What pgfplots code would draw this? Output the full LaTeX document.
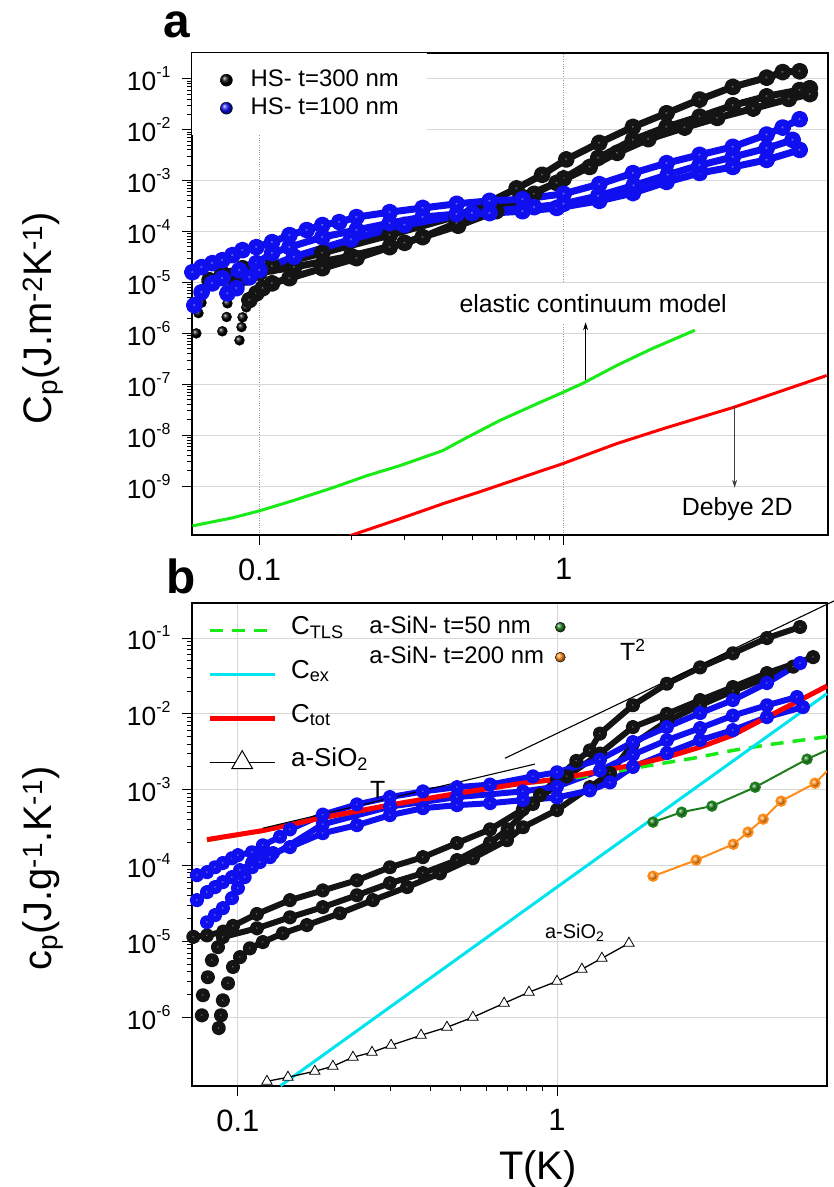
\documentclass[border=0pt]{standalone}
\usepackage{fontspec}
\setmainfont{Liberation Sans}
\usepackage{pgfplots}
\pgfplotsset{compat=1.18}
\usetikzlibrary{shadings,arrows.meta}
\definecolor{lgreen}{RGB}{25,235,25}
\definecolor{cyanl}{RGB}{0,228,238}
\definecolor{dgreen}{RGB}{30,125,30}
\definecolor{orng}{RGB}{255,140,25}
\definecolor{gridc}{RGB}{215,215,215}
\definecolor{dblue}{RGB}{15,15,240}
\newcommand{\fs}[1]{\fontsize{#1}{#1}\selectfont}
\newcommand{\ex}[1]{10\raisebox{13bp}{\fs{16}#1}}

\pgfplotsset{
  mybandA/.style={black!92, line width=7bp, line join=round, line cap=round, mark=ball, mark size=5bp, mark options={ball color=black}},
  mybandAb/.style={dblue, line width=7bp, line join=round, line cap=round, mark=ball, mark size=5bp, mark options={ball color=dblue}},
  mysparseA/.style={only marks, mark=ball, mark size=5bp, mark options={ball color=black}},
  mybandB/.style={black!92, line width=6bp, line join=round, line cap=round, mark=ball, mark size=4.2bp, mark options={ball color=black}},
  mybandBb/.style={dblue, line width=6bp, line join=round, line cap=round, mark=ball, mark size=4.2bp, mark options={ball color=dblue}},
}

\begin{document}
\begin{tikzpicture}
\useasboundingbox (0,0) rectangle (834bp,1187bp);

% ---------------- panel a ----------------
\begin{axis}[
  scale only axis, xmode=log, ymode=log,
  log identify minor tick positions=true,
  tick pos=left, tick align=outside,
  major tick length=10bp, minor tick length=5bp,
  every tick/.append style={black, line width=0.9bp},
  axis line style={line width=1.3bp, black},
  yticklabel style={font=\fs{26.5}, xshift=-8bp},
  xticklabel style={font=\fs{31}, yshift=-10bp},
  xtick={0.1,1}, xticklabels={0.1,1},
  ymajorgrids, xmajorgrids,
  y grid style={gridc, line width=0.9bp},
  at={(192bp,652bp)}, anchor=south west, width=636bp, height=482bp,
  xmin=0.06, xmax=7.4, ymin=1.1e-10, ymax=0.32,
  ytick={1e-9,1e-8,1e-7,1e-6,1e-5,1e-4,1e-3,1e-2,1e-1},
  yticklabels={\ex{-9},\ex{-8},\ex{-7},\ex{-6},\ex{-5},\ex{-4},\ex{-3},\ex{-2},\ex{-1}},
  x grid style={gray!80, dotted, line width=0.8bp},
  ylabel={C\textsubscript{p}(J.m\textsuperscript{-2}K\textsuperscript{-1})},
  ylabel style={at={(axis description cs:-0.234,0.45)}, anchor=center, font=\fs{40}},
  legend style={at={(axis description cs:0,1)}, anchor=north west, draw=none, fill=white,
    inner xsep=28bp, inner ysep=16bp, column sep=18bp, row sep=6bp,
    nodes={inner sep=0pt, text height=17bp, text depth=5bp}, font=\fs{24}},
  legend cell align=left,
]
\addlegendimage{only marks, mark=ball, mark size=6bp, mark options={ball color=black}}
\addlegendentry{HS- t=300 nm}
\addlegendimage{only marks, mark=ball, mark size=6bp, mark options={ball color=dblue}}
\addlegendentry{HS- t=100 nm}

% black, t=300 nm
\addplot[mysparseA, forget plot] coordinates {(0.062,1.0e-6) (0.063,2.5e-6) (0.0645,4.0e-6) (0.065,7.0e-6)};
\addplot[mybandA, forget plot] coordinates {
(0.0685,1.1e-5) (0.0755,1.5e-5) (0.088,1.9e-5) (0.110,2.1e-5) (0.161,3.8e-5) (0.268,8.5e-5)
(0.445,2.0e-4) (0.571,3.8e-4) (0.70,7.0e-4) (0.85,1.3e-3) (1.02,2.6e-3) (1.31,5.5e-3)
(1.69,1.13e-2) (2.18,2.1e-2) (2.80,3.9e-2) (3.60,6.9e-2) (4.65,0.105) (5.25,0.135) (5.97,0.14)};
\addplot[mysparseA, forget plot] coordinates {(0.0755,1.1e-6) (0.078,2.1e-6) (0.0785,3.9e-6) (0.080,6.1e-6)};
\addplot[mybandA, forget plot] coordinates {
(0.084,9.6e-6) (0.0905,1.26e-5) (0.100,1.55e-5) (0.13,2.0e-5) (0.2,3.3e-5) (0.3,6.0e-5)
(0.45,1.3e-4) (0.6,2.5e-4) (0.8,5.5e-4) (1.0,1.1e-3) (1.3,2.8e-3) (1.69,6.3e-3)
(2.18,1.13e-2) (2.8,1.8e-2) (3.6,3.0e-2) (4.65,4.5e-2) (5.97,6.0e-2) (6.45,6.5e-2)};
\addplot[mysparseA, forget plot] coordinates {(0.086,7.3e-7) (0.0873,1.33e-6) (0.088,2.07e-6) (0.0905,3.25e-6)};
\addplot[mybandA, forget plot] coordinates {
(0.0927,4.5e-6) (0.0977,6.1e-6) (0.1025,7.7e-6) (0.110,9.6e-6) (0.1255,1.21e-5) (0.161,1.9e-5)
(0.2085,3.0e-5) (0.268,4.93e-5) (0.344,7.76e-5) (0.445,1.46e-4) (0.571,2.6e-4) (0.733,4.75e-4)
(0.949,9.0e-4) (1.218,1.85e-3) (1.5,3.5e-3) (1.9,6.5e-3) (2.5,1.1e-2) (3.2,1.7e-2)
(4.2,2.6e-2) (5.5,4.0e-2) (6.45,5.0e-2)};

% blue, t=100 nm
\addplot[mybandAb, forget plot] coordinates {
(0.0602,1.59e-5) (0.0645,2.0e-5) (0.070,2.39e-5) (0.0755,2.73e-5) (0.0815,3.43e-5) (0.0879,4.3e-5)
(0.0977,4.93e-5) (0.110,6.18e-5) (0.1255,8.5e-5) (0.143,1.07e-4) (0.161,1.34e-4) (0.183,1.53e-4)
(0.2085,1.92e-4) (0.268,2.4e-4) (0.344,2.9e-4) (0.445,3.5e-4) (0.571,4.0e-4) (0.733,4.3e-4)
(1.0,5.5e-4) (1.31,8.5e-4) (1.69,1.4e-3) (2.18,2.2e-3) (2.8,3.2e-3) (3.6,4.6e-3)
(4.65,8.0e-3) (5.25,1.1e-2) (5.97,1.6e-2)};
\addplot[mybandAb, forget plot] coordinates {
(0.0611,3.56e-6) (0.0645,6.4e-6) (0.070,9.6e-6) (0.0755,1.21e-5) (0.0859,1.74e-5) (0.0977,2.39e-5)
(0.110,3.76e-5) (0.1255,4.93e-5) (0.161,7.76e-5) (0.2085,1.07e-4) (0.268,1.46e-4) (0.344,1.92e-4)
(0.445,2.2e-4) (0.571,2.3e-4) (0.733,2.5e-4) (0.949,2.9e-4) (1.31,4.0e-4) (1.69,5.7e-4)
(2.18,9.4e-4) (2.8,1.41e-3) (3.6,1.85e-3) (4.65,2.55e-3) (5.97,4.0e-3)};
\addplot[mybandAb, forget plot] coordinates {
(0.0785,6.1e-6) (0.084,7.7e-6) (0.0927,1.26e-5) (0.100,1.74e-5) (0.13,3.2e-5) (0.2,7.0e-5)
(0.3,1.35e-4) (0.5,2.3e-4) (0.8,3.0e-4) (1.0,3.5e-4) (1.3,5.0e-4) (1.7,8.0e-4)
(2.2,1.3e-3) (2.8,2.0e-3) (3.6,2.9e-3) (4.65,4.3e-3) (5.66,6.3e-3)};

% elastic continuum model
\addplot[lgreen, line width=3bp, forget plot] coordinates {
(0.0602,1.66e-10) (0.0815,2.39e-10) (0.1,3.28e-10) (0.1284,5.16e-10) (0.174,9.3e-10) (0.225,1.60e-9)
(0.289,2.52e-9) (0.400,4.98e-9) (0.480,8.97e-9) (0.616,1.94e-8) (0.834,4.38e-8) (0.992,6.9e-8)
(1.155,1.04e-7) (1.494,2.34e-7) (1.963,5.07e-7) (2.70,1.15e-6)};
% Debye 2D
\addplot[red, line width=3bp, forget plot] coordinates {
(0.198,1.06e-10) (0.289,2.28e-10) (0.400,4.5e-10) (0.542,8.1e-10) (0.791,1.75e-9) (0.992,2.76e-9)
(1.494,6.84e-9) (2.18,1.41e-8) (3.60,3.49e-8) (7.33,1.49e-7)};

\node[fill=white, inner xsep=13.5bp, minimum height=41bp, font=\fs{25}] at (axis cs:1.25,3.9e-6) {elastic continuum model};
\draw[-{Stealth[length=8bp,width=5bp]}, line width=0.8bp] (axis cs:1.181,1.19e-7) -- (axis cs:1.181,1.65e-6);
\node[font=\fs{25}, inner sep=1bp] at (axis cs:3.72,3.59e-10) {Debye 2D};
\draw[-{Stealth[length=8bp,width=5bp]}, line width=0.8bp, black!75] (axis cs:3.65,3.83e-8) -- (axis cs:3.65,9.3e-10);
\end{axis}

% ---------------- panel b ----------------
\begin{axis}[
  scale only axis, xmode=log, ymode=log,
  log identify minor tick positions=true,
  tick pos=left, tick align=outside,
  major tick length=10bp, minor tick length=5bp,
  every tick/.append style={black, line width=0.9bp},
  axis line style={line width=1.3bp, black},
  yticklabel style={font=\fs{26.5}, xshift=-8bp},
  xticklabel style={font=\fs{31}, yshift=-10bp},
  xtick={0.1,1}, xticklabels={0.1,1},
  ymajorgrids, xmajorgrids,
  y grid style={gridc, line width=0.9bp},
  at={(192bp,101bp)}, anchor=south west, width=635bp, height=483bp,
  xmin=0.0718, xmax=7.02, ymin=1.24e-7, ymax=0.29,
  clip=false,
  ytick={1e-6,1e-5,1e-4,1e-3,1e-2,1e-1},
  yticklabels={\ex{-6},\ex{-5},\ex{-4},\ex{-3},\ex{-2},\ex{-1}},
  x grid style={gridc, line width=0.9bp},
  ylabel={c\textsubscript{p}(J.g\textsuperscript{-1}.K\textsuperscript{-1})},
  ylabel style={at={(axis description cs:-0.235,0.45)}, anchor=center, font=\fs{40}},
  xlabel={T(K)},
  xlabel style={at={(axis description cs:0.545,-0.172)}, anchor=center, font=\fs{40}},
  legend style={at={(axis description cs:0,1)}, anchor=north west, draw=none, fill=none,
    inner xsep=15bp, inner ysep=11bp, column sep=14bp, row sep=11bp,
    nodes={inner sep=0pt, text height=20bp, text depth=13bp}, font=\fs{26}},
  legend cell align=left,
  legend image code/.code={\draw[mark repeat=2,mark phase=2,#1] plot coordinates {(0bp,0bp) (32.5bp,0bp) (65bp,0bp)};},
]
\addlegendimage{lgreen, line width=3.5bp, dash pattern=on 13bp off 9bp}
\addlegendentry{C\textsubscript{TLS}}
\addlegendimage{cyanl, line width=3bp}
\addlegendentry{C\textsubscript{ex}}
\addlegendimage{red, line width=5bp}
\addlegendentry{C\textsubscript{tot}}
\addlegendimage{black, line width=1.3bp, mark=triangle*, mark size=12bp, mark options={fill=white, draw=black, line width=1bp}}
\addlegendentry{a-SiO\textsubscript{2}}

% black, t=300 nm
\addplot[mybandB, forget plot] coordinates {
(0.0725,1.15e-5) (0.080,1.2e-5) (0.090,1.35e-5) (0.0965,1.6e-5) (0.1147,2.3e-5) (0.1456,3.5e-5)
(0.1845,4.7e-5) (0.236,6.4e-5) (0.2995,9.5e-5) (0.38,1.29e-4) (0.486,1.98e-4) (0.617,3.0e-4)
(0.782,5.5e-4) (0.885,8.5e-4) (1.0,1.4e-3) (1.15,2.4e-3) (1.268,3.3e-3) (1.364,5.5e-3)
(1.73,1.3e-2) (2.21,2.5e-2) (2.81,4.1e-2) (3.56,6.3e-2) (4.55,0.10) (5.78,0.14)};
\addplot[mybandB, only marks, forget plot] coordinates {(0.0771,1.06e-6) (0.0777,1.95e-6) (0.0805,3.37e-6) (0.0829,5.65e-6)};
\addplot[mybandB, forget plot] coordinates {
(0.0866,8.4e-6) (0.0897,1.14e-5) (0.1147,1.49e-5) (0.1456,2.08e-5) (0.1845,2.83e-5) (0.236,4.06e-5)
(0.2995,5.86e-5) (0.38,7.94e-5) (0.486,1.18e-4) (0.617,2.0e-4) (0.70,3.0e-4) (0.841,6.5e-4)
(1.074,1.5e-3) (1.364,3.0e-3) (1.73,6.7e-3) (2.21,1.0e-2) (2.81,1.52e-2) (3.56,2.26e-2)
(4.55,3.45e-2) (6.35,5.6e-2)};
\addplot[mybandB, only marks, forget plot] coordinates {(0.0871,7.2e-7) (0.0885,1.06e-6) (0.0897,1.67e-6) (0.0931,2.8e-6)};
\addplot[mybandB, forget plot] coordinates {
(0.0965,4.6e-6) (0.1015,6.2e-6) (0.109,8.1e-6) (0.1197,9.8e-6) (0.1383,1.28e-5) (0.1645,1.64e-5)
(0.2088,2.35e-5) (0.265,3.5e-5) (0.339,5.2e-5) (0.43,7.9e-5) (0.545,1.25e-4) (0.697,2.16e-4)
(0.782,3.2e-4) (1.0,5.4e-4) (1.268,1.08e-3) (1.466,1.66e-3) (1.73,4.0e-3) (2.21,8.0e-3)
(2.81,1.3e-2) (3.56,2.0e-2) (4.55,3.0e-2) (5.5,4.2e-2)};

% blue, t=100 nm
\addplot[mybandBb, forget plot] coordinates {
(0.0744,7.47e-5) (0.080,8.18e-5) (0.0848,9.5e-5) (0.0897,1.08e-4) (0.0958,1.25e-4) (0.100,1.37e-4)
(0.1107,1.5e-4) (0.1197,1.85e-4) (0.1355,2.4e-4) (0.1456,3.0e-4) (0.1845,4.7e-4) (0.236,6.4e-4)
(0.2995,8.0e-4) (0.38,9.5e-4) (0.486,1.08e-3) (0.617,1.17e-3) (0.841,1.5e-3) (1.0,1.7e-3)
(1.364,2.5e-3) (1.73,4.25e-3) (2.21,6.7e-3) (2.81,1.025e-2) (3.56,1.52e-2) (4.55,2.55e-2) (5.78,4.67e-2)};
\addplot[mybandBb, forget plot] coordinates {
(0.0744,3.5e-5) (0.080,4.46e-5) (0.0848,5.19e-5) (0.0897,6.04e-5) (0.0958,7.03e-5) (0.1015,8.7e-5)
(0.1107,1.08e-4) (0.119,1.29e-4) (0.1288,1.46e-4) (0.1456,1.75e-4) (0.1845,2.67e-4) (0.236,3.41e-4)
(0.2995,4.62e-4) (0.38,5.71e-4) (0.486,6.26e-4) (0.617,6.65e-4) (0.782,7.29e-4) (1.0,7.9e-4)
(1.268,9.8e-4) (1.466,1.25e-3) (1.73,2.0e-3) (2.21,3.04e-3) (2.81,4.51e-3) (3.56,6.11e-3)
(4.55,9.07e-3) (5.9,1.23e-2)};
\addplot[mybandBb, forget plot] coordinates {
(0.080,1.79e-5) (0.0848,2.22e-5) (0.0897,2.74e-5) (0.0958,3.72e-5) (0.100,5.04e-5) (0.105,7.03e-5)
(0.1107,9.5e-5) (0.1172,1.11e-4) (0.126,1.29e-4) (0.1845,3.5e-4) (0.30,6.0e-4) (0.486,8.0e-4)
(0.782,9.5e-4) (1.0,1.1e-3) (1.364,1.8e-3) (1.73,2.9e-3) (2.21,4.5e-3) (2.81,6.5e-3)
(3.56,9.5e-3) (4.55,1.3e-2) (5.65,1.67e-2)};

% models
\addplot[lgreen, line width=3.5bp, dash pattern=on 13bp off 9bp, forget plot] coordinates {
(0.08,2.15e-4) (0.12,2.85e-4) (0.18,4.1e-4) (0.30,6.2e-4) (0.49,8.9e-4) (0.78,1.2e-3)
(1.0,1.33e-3) (1.36,1.6e-3) (2.1,2.2e-3) (2.67,2.6e-3) (3.56,3.3e-3) (4.55,3.9e-3) (6.53,4.8e-3) (7.02,5.0e-3)};
\addplot[cyanl, line width=3bp, forget plot] coordinates {(0.136,1.25e-7) (1.0,5.2e-5) (7.02,1.85e-2)};
\addplot[red, line width=5bp, forget plot] coordinates {
(0.080,2.2e-4) (0.12,2.9e-4) (0.18,4.2e-4) (0.30,6.3e-4) (0.49,9.0e-4) (0.78,1.22e-3)
(1.0,1.38e-3) (1.364,1.76e-3) (1.73,2.11e-3) (2.21,2.69e-3) (2.81,3.65e-3) (3.56,5.25e-3)
(4.55,9.07e-3) (5.78,1.52e-2) (7.02,2.33e-2)};
\addplot[black, line width=1.3bp, mark=triangle*, mark size=6bp, mark options={fill=white, draw=black, line width=0.8bp}, forget plot] coordinates {
(0.1233,1.43e-7) (0.1435,1.62e-7) (0.1742,1.94e-7) (0.1985,2.26e-7) (0.2294,2.97e-7) (0.2632,3.45e-7)
(0.302,4.27e-7) (0.375,5.79e-7) (0.452,7.38e-7) (0.545,1.0e-6) (0.683,1.53e-6) (0.817,2.14e-6)
(1.0,2.98e-6) (1.197,4.30e-6) (1.383,6.0e-6) (1.681,9.46e-6)};
% T and T^2 guide lines
\addplot[black, line width=1.1bp, forget plot] coordinates {(0.1197,3.11e-4) (0.853,2.18e-3)};
\addplot[black, line width=1.1bp, forget plot] coordinates {(0.687,2.6e-3) (7.4,0.31)};

\node[font=\fs{25}, anchor=base west, inner sep=0pt] at (axis cs:0.2594,7.75e-4) {T};
\node[font=\fs{25}, anchor=base west, inner sep=0pt] at (axis cs:1.576,0.0513) {T\textsuperscript{2}};
\node[font=\fs{20}, anchor=base west, inner sep=0pt] at (axis cs:0.917,1.10e-5) {a-SiO\textsubscript{2}};
\end{axis}

% second axis (a-SiN data and their legend)
\begin{axis}[scale only axis, hide axis, xmode=log, ymode=log,
  at={(192bp,101bp)}, anchor=south west, width=635bp, height=483bp,
  xmin=0.0718, xmax=7.02, ymin=1.24e-7, ymax=0.29,
  legend style={at={(axis description cs:0.279,1)}, anchor=north west, draw=none, fill=none,
    inner xsep=0pt, inner ysep=13bp, column sep=11bp, row sep=8bp,
    nodes={inner sep=0pt, text height=17bp, text depth=5bp}, font=\fs{24}},
  legend cell align=left, legend plot pos=right,
]
\addlegendimage{only marks, mark=ball, mark size=5bp, mark options={ball color=dgreen}}
\addlegendentry{a-SiN- t=50 nm}
\addlegendimage{only marks, mark=ball, mark size=5bp, mark options={ball color=orng}}
\addlegendentry{a-SiN- t=200 nm}
\addplot[dgreen, line width=2bp, forget plot] coordinates {(6.08,2.53e-3) (7.02,3.33e-3)};
\addplot[dgreen, line width=2bp, mark=ball, mark size=4.7bp, mark options={ball color=dgreen}, forget plot] coordinates {
(2.0,3.74e-4) (2.46,5.06e-4) (3.06,6.08e-4) (4.18,1.08e-3) (6.08,2.53e-3)};
\addplot[orng, line width=2bp, forget plot] coordinates {(6.44,1.22e-3) (7.02,1.76e-3)};
\addplot[orng, line width=2bp, mark=ball, mark size=4.7bp, mark options={ball color=orng}, forget plot] coordinates {
(2.0,7.24e-5) (2.73,1.18e-4) (3.57,1.91e-4) (3.97,2.76e-4) (4.43,4.1e-4) (5.04,7.07e-4) (6.44,1.22e-3)};
\end{axis}

\node[font=\bfseries\fs{48}, inner sep=0pt] at (177bp,1162bp) {a};
\node[font=\bfseries\fs{48}, inner sep=0pt] at (181bp,611bp) {b};
\end{tikzpicture}
\end{document}
